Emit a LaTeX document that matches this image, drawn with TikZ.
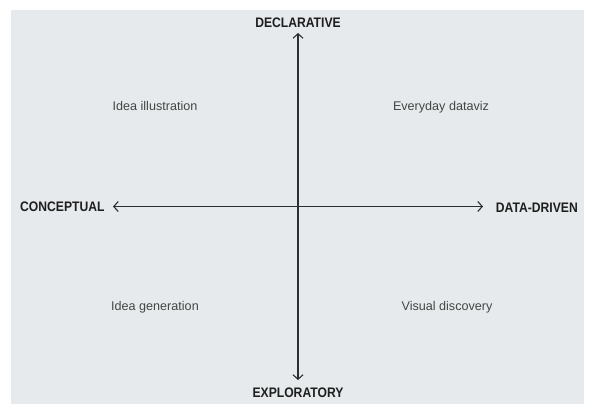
\documentclass[tikz,border=0pt]{standalone}
\usepackage{fontspec}
\setmainfont{Liberation Sans}
\newfontfamily\labfont{Liberation Sans Bold}[FakeStretch=0.88]
\usetikzlibrary{arrows.meta}
\definecolor{bgc}{HTML}{E6EAEC}
\definecolor{axc}{HTML}{2E2E2E}
\definecolor{boldc}{HTML}{1E1E1E}
\definecolor{txtc}{HTML}{454545}
\begin{document}
\begin{tikzpicture}[x=1pt,y=-1pt,
  axislabel/.style={font=\labfont\fontsize{13.8}{15}\selectfont, text=boldc, inner sep=0pt},
  quadlabel/.style={font=\fontsize{12.6}{14}\selectfont, text=txtc, inner sep=0pt},
  axisline/.style={draw=axc, line width=1.1pt, {Straight Barb[length=4.5pt,width=10pt,line width=1.1pt]}-{Straight Barb[length=4.5pt,width=10pt,line width=1.1pt]}}]
\useasboundingbox (0,0) rectangle (600,415);
\fill[bgc] (11,10) rectangle (584,403.5);
\node[axislabel, anchor=base] (decl) at (298,27.3) {DECLARATIVE};
\node[axislabel, anchor=base] (expl) at (298,397.6) {EXPLORATORY};
\node[axislabel, anchor=base west] (conc) at (20,211.8) {CONCEPTUAL};
\node[axislabel, anchor=base east] (data) at (578,212) {DATA-DRIVEN};
\coordinate (top) at (298,33);
\coordinate (bot) at (298,380);
\coordinate (lft) at (113,206.5);
\coordinate (rgt) at (483,206.5);
\draw[axisline] (top) -- (bot);
\draw[axisline] (lft) -- (rgt);
\node[quadlabel, anchor=base] (ill) at (155,110.3) {Idea illustration};
\node[quadlabel, anchor=base] (evd) at (441,110.3) {Everyday dataviz};
\node[quadlabel, anchor=base] (gen) at (155,310.5) {Idea generation};
\node[quadlabel, anchor=base] (vis) at (447,310.5) {Visual discovery};
\end{tikzpicture}
\end{document}
